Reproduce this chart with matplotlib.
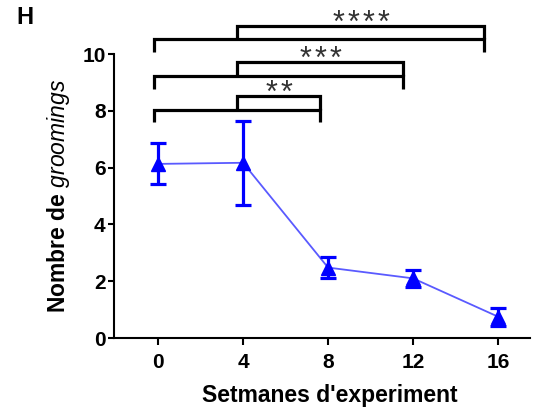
import matplotlib
matplotlib.use("Agg")
import matplotlib.pyplot as plt

plt.rcParams['font.family'] = ['Liberation Sans', 'DejaVu Sans']
plt.rcParams['mathtext.fontset'] = 'custom'
plt.rcParams['mathtext.it'] = 'Liberation Sans:italic'
plt.rcParams['mathtext.rm'] = 'Liberation Sans'

weeks = [0, 4, 8, 12, 16]
means = [6.13, 6.17, 2.48, 2.1, 0.75]
sems = [0.72, 1.48, 0.38, 0.31, 0.31]
xticks = [0, 4, 8, 12, 16]
yticks = [0, 2, 4, 6, 8, 10]

# significance brackets: (lower-left x, upper-left x, right x, lower y, upper y, arm bottom, stars)
brackets = [
    (-0.19, 3.72, 7.62, 8.03, 8.52, 7.6, 2),
    (-0.19, 3.72, 11.53, 9.22, 9.72, 8.78, 3),
    (-0.19, 3.72, 15.34, 10.52, 11.0, 10.07, 4),
]

fig = plt.figure(figsize=(5.38, 4.19), dpi=100)
ax = fig.add_axes([114/538, 1-338/419, (530-114)/538, (338-54)/419])

ax.plot(weeks, means, color='#5a5aff', lw=1.3, zorder=2)
ax.errorbar(weeks, means, yerr=sems, fmt='none', ecolor='#0000ff',
            elinewidth=2.3, capsize=6, capthick=2.3, zorder=3)
ax.plot(weeks, means, linestyle='none', marker='^', ms=9.5, color='#0000ff',
        mec='#0000ff', zorder=4)

ax.set_xlim(-2.07, 17.5)
ax.set_ylim(0, 10)
ax.set_xticks(xticks)
ax.set_yticks(yticks)
ax.set_xticklabels([str(v) for v in xticks], fontsize=15, fontweight='bold')
ax.set_yticklabels([str(v) for v in yticks], fontsize=15, fontweight='bold')
ax.tick_params(direction='out', length=4, width=1.5, pad=2)
ax.tick_params(axis='x', length=5, pad=6)
for s in ['top', 'right']:
    ax.spines[s].set_visible(False)
for s in ['left', 'bottom']:
    ax.spines[s].set_linewidth(1.5)

ax.set_xlabel("Setmanes d'experiment", fontsize=16.5, fontweight='bold')
ax.xaxis.set_label_coords((330-114)/416, -(395-338)/284, )
ax.xaxis.label.set_va('center')
ax.set_ylabel(r"Nombre de $\mathit{groomings}$", fontsize=16.5, fontweight='bold')
ax.yaxis.set_label_coords(-(114-58)/416, 0.5)
ax.yaxis.label.set_va('center')

for xl, xu, xr, yl, yu, ya, n in brackets:
    ax.plot([xl, xl, xr, xr], [ya, yl, yl, ya], color='black', lw=2.3,
            clip_on=False, solid_joinstyle='miter', solid_capstyle='butt')
    ax.plot([xu, xu, xr, xr], [yl, yu, yu, yl], color='black', lw=2.3,
            clip_on=False, solid_joinstyle='miter', solid_capstyle='butt')
    xc = (xu + xr) / 2
    for i in range(n):
        dx = (i - (n - 1) / 2) * 10.8
        ax.annotate("*", xy=(xc, yu), xytext=(dx, -4.3), textcoords='offset points',
                    ha='center', va='baseline', fontsize=22, color='#333333',
                    annotation_clip=False)

fig.text(25/538, 1-18/419, "H", fontsize=17, fontweight='bold', ha='center', va='center')

fig.savefig("out.png", dpi=100)
